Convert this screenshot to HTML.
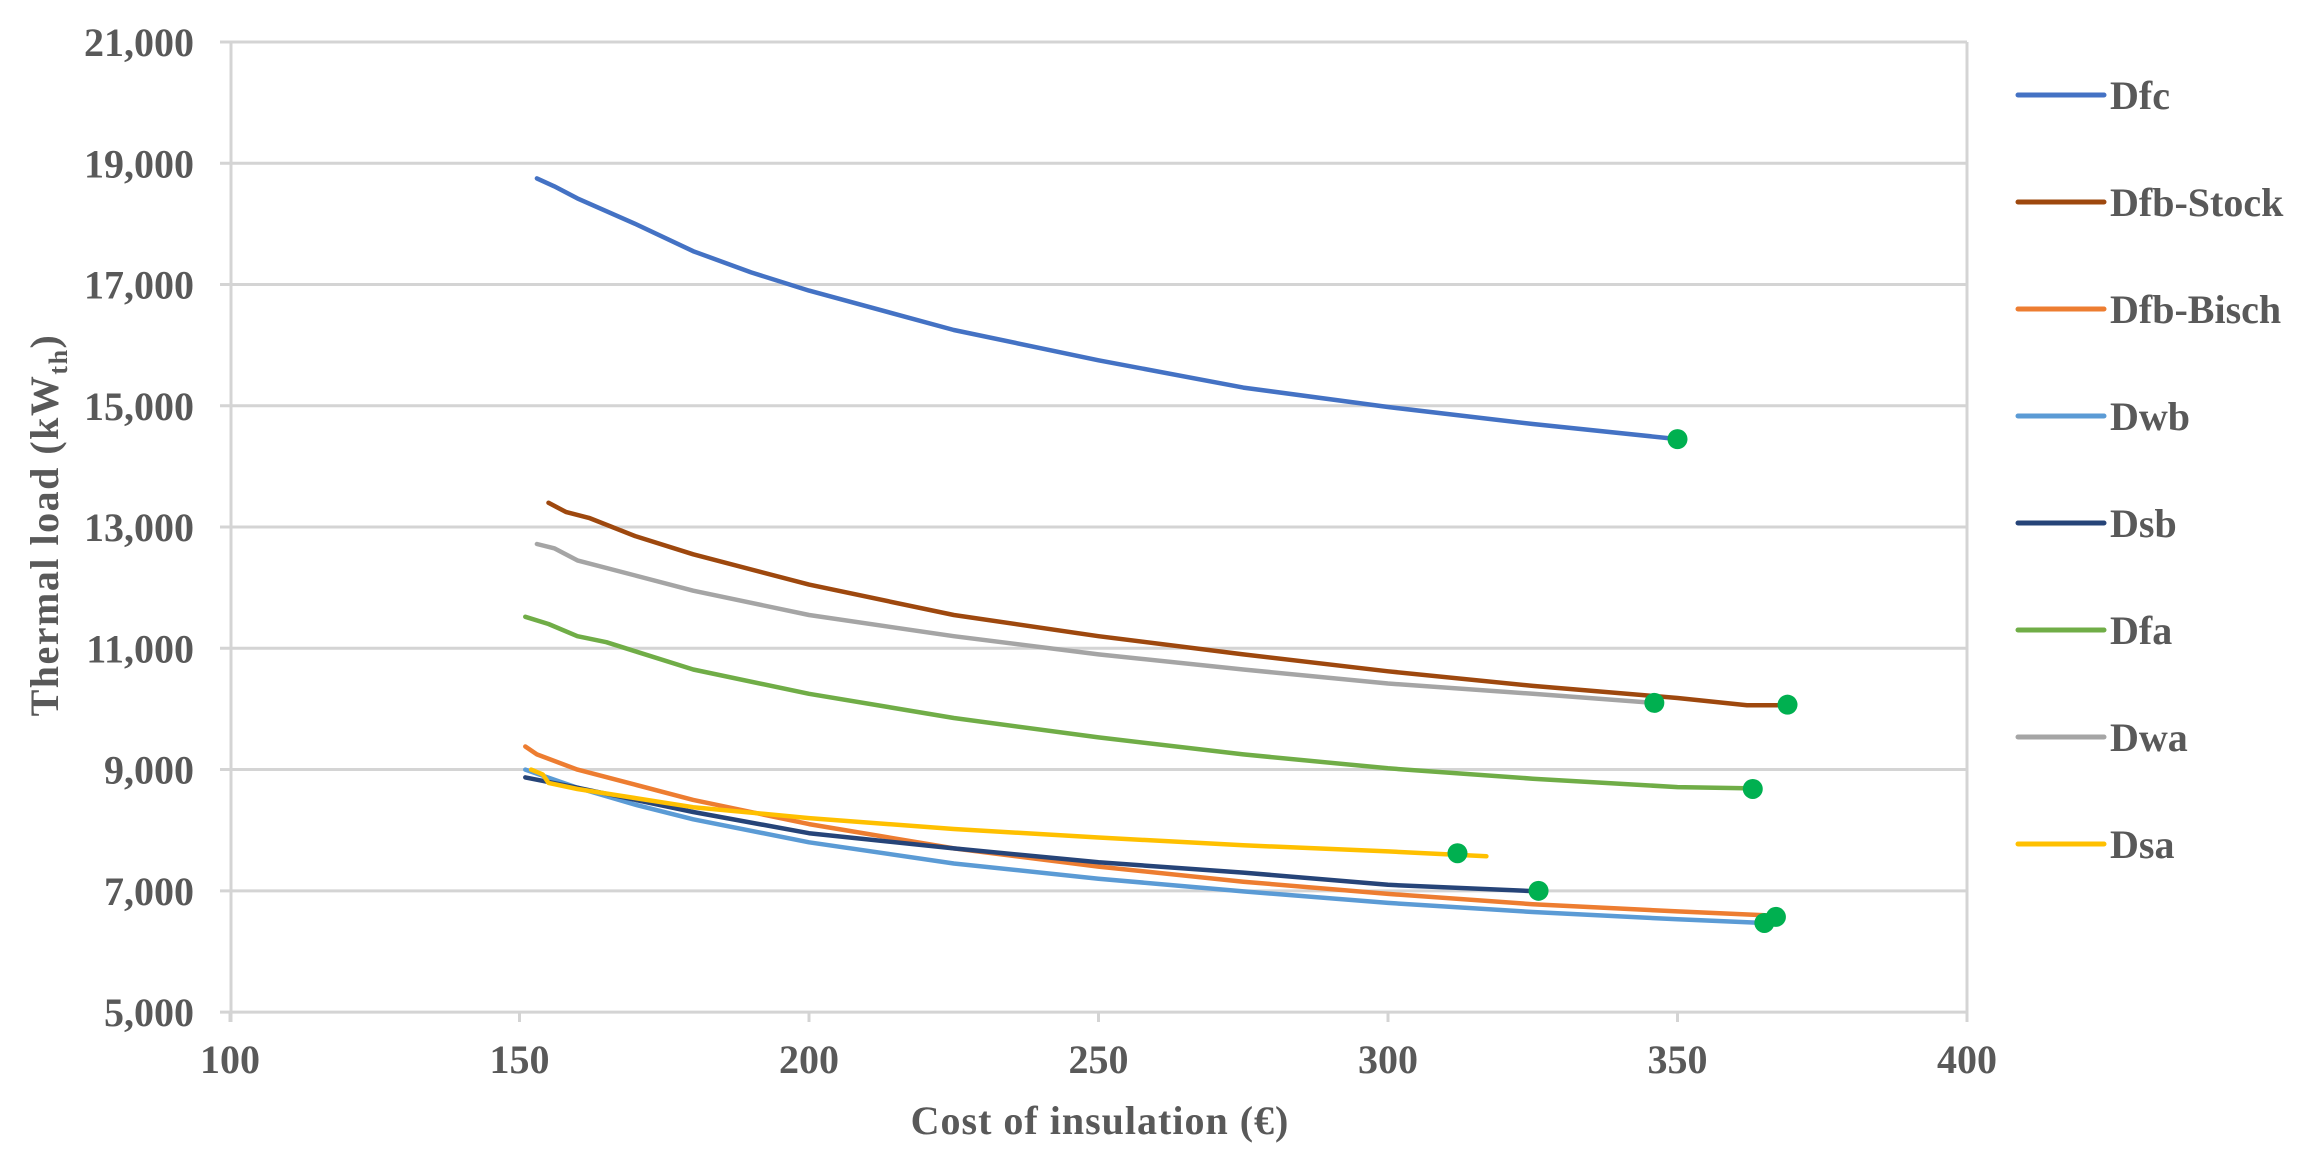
<!DOCTYPE html>
<html><head><meta charset="utf-8"><style>
html,body{margin:0;padding:0;background:#fff;}
svg{display:block;font-family:"Liberation Serif",serif;font-weight:bold;}
</style></head><body>
<svg id="c" width="2301" height="1163" viewBox="0 0 2301 1163" xmlns="http://www.w3.org/2000/svg">
<g id="grid" stroke="#d4d4d4" stroke-width="3"></g>
<g id="ticks" fill="#595959" font-size="40"></g>
<g id="series" fill="none" stroke-width="4.5" stroke-linejoin="round" stroke-linecap="round"></g>
<g id="marks" fill="#00B050"></g>
<text x="1100" y="1134" font-size="40" fill="#595959" text-anchor="middle" letter-spacing="1">Cost of insulation  (€)</text>
<text transform="translate(58,525) rotate(-90)" font-size="40" fill="#595959" text-anchor="middle" letter-spacing="1.5">Thermal load (kW<tspan font-size="26" dy="9">th</tspan><tspan dy="-9">)</tspan></text>
<g id="legend" font-size="40" fill="#595959"></g>
</svg>
<script>
var NS="http://www.w3.org/2000/svg";
function X(v){return 230+(v-100)*5.79;}
function Y(v){return 42+(21000-v)*0.06063;}
function el(p,t,a,txt){var e=document.createElementNS(NS,t);for(var k in a)e.setAttribute(k,a[k]);if(txt!==undefined)e.textContent=txt;document.getElementById(p).appendChild(e);return e;}
for(var v=5000;v<=21000;v+=2000){
 var y=Y(v);
 el("grid","line",{x1:220,x2:1967,y1:y,y2:y});
 el("ticks","text",{x:194,y:y+14,"text-anchor":"end"},v.toLocaleString("en-US"));
}
el("grid","line",{x1:231,x2:231,y1:42,y2:1022});
el("grid","line",{x1:1967,x2:1967,y1:42,y2:1022});
for(var v=100;v<=400;v+=50){
 var x=X(v);
 el("grid","line",{x1:x,x2:x,y1:1012,y2:1022});
 el("ticks","text",{x:x,y:1073,"text-anchor":"middle"},v);
}
var S=[
["Dfc","#4472C4",[[153,18750],[156,18620],[160,18420],[170,18000],[180,17550],[190,17200],[200,16900],[225,16250],[250,15750],[275,15300],[300,14980],[325,14700],[350,14450]],[350,14450]],
["Dfb-Stock","#9E480E",[[155,13400],[158,13250],[162,13150],[170,12850],[180,12550],[200,12050],[225,11550],[250,11200],[275,10900],[300,10620],[325,10380],[350,10180],[362,10060],[369,10060]],[369,10070]],
["Dfb-Bisch","#ED7D31",[[151,9380],[153,9250],[160,9000],[170,8750],[180,8500],[200,8100],[225,7700],[250,7400],[275,7150],[300,6950],[325,6780],[350,6660],[367,6590]],[367,6570]],
["Dwb","#5B9BD5",[[151,9000],[160,8700],[170,8420],[180,8180],[200,7800],[225,7450],[250,7200],[275,6990],[300,6800],[325,6650],[350,6530],[365,6470]],[365,6470]],
["Dsb","#264478",[[151,8870],[160,8700],[180,8300],[200,7950],[225,7700],[250,7470],[275,7300],[300,7100],[326,6990]],[326,7000]],
["Dfa","#70AD47",[[151,11520],[155,11400],[160,11200],[165,11100],[170,10950],[180,10650],[200,10250],[225,9850],[250,9530],[275,9250],[300,9020],[325,8850],[350,8710],[363,8690]],[363,8680]],
["Dwa","#A5A5A5",[[153,12720],[156,12650],[160,12450],[170,12200],[180,11950],[200,11550],[225,11200],[250,10900],[275,10650],[300,10420],[325,10250],[346,10100]],[346,10100]],
["Dsa","#FFC000",[[152,9000],[154,8920],[155,8780],[160,8680],[180,8380],[200,8200],[225,8020],[250,7880],[275,7750],[300,7650],[317,7570]],[312,7620]]
];
S.forEach(function(s,i){
 var d=s[2].map(function(p,j){return (j?"L":"M")+X(p[0]).toFixed(1)+" "+Y(p[1]).toFixed(1);}).join(" ");
 el("series","path",{d:d,stroke:s[1]});
 el("marks","circle",{cx:X(s[3][0]),cy:Y(s[3][1]),r:10});
 var ly=95+i*107;
 el("legend","line",{x1:2018,x2:2104,y1:ly,y2:ly,stroke:s[1],"stroke-width":5,"stroke-linecap":"round"});
 el("legend","text",{x:2110,y:ly+14},s[0]);
});
</script>
</body></html>
